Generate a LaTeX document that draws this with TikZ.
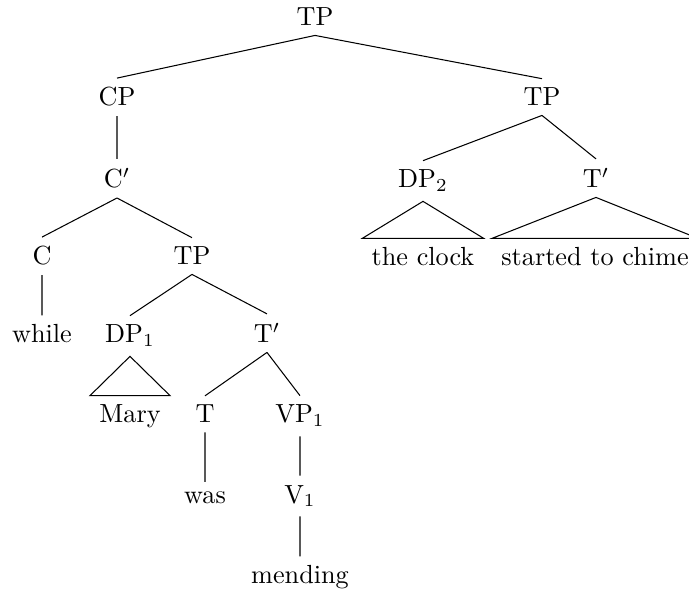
\documentclass[tikz,border=0pt]{standalone}
\usepackage{tikz}
\usetikzlibrary{arrows}

\begin{document}
\begin{tikzpicture}[x=0.3817pt,y=-0.3817pt]
  \tikzstyle{every node}=[anchor=base,inner sep=3.4pt]
  \useasboundingbox (0,0) rectangle (689,592);

  % top level
  \node (tp)     at (315,26)  {TP};
  \node (cp)     at (117,106) {CP};
  \node (tpr)    at (542,106) {TP};

  % left clause
  \node (cbar)   at (117,188) {C$'$};
  \node (c)      at (42,265)  {C};
  \node (tpl)    at (192,265) {TP};
  \node (while)  at (42,343)  {while};
  \node (dp1)    at (130,343) {DP$_1$};
  \node (tbar1)  at (267,343) {T$'$};
  \node (mary)   at (130,423) {Mary};
  \node (t)      at (205,423) {T};
  \node (vp1)    at (300,423) {VP$_1$};
  \node (was)    at (205,503) {was};
  \node (v1)     at (300,503) {V$_1$};
  \node (mend)   at (300,584) {mending};

  % right clause
  \node (dp2)    at (423,188) {DP$_2$};
  \node (tbar2)  at (596,188) {T$'$};
  \node (clock)  at (423,266) {the clock};
  \node (chime)  at (595,266) {started to chime};

  \draw (tp.south) -- (cp.north)
        (tp.south) -- (tpr.north)
        (cp.south) -- (cbar.north)
        (cbar.south) -- (c.north)
        (cbar.south) -- (tpl.north)
        (c.south) -- (while.north)
        (tpl.south) -- (dp1.north)
        (tpl.south) -- (tbar1.north)
        (tbar1.south) -- (t.north)
        (tbar1.south) -- (vp1.north)
        (t.south) -- (was.north)
        (vp1.south) -- (v1.north)
        (v1.south) -- (mend.north)
        (tpr.south) -- (dp2.north)
        (tpr.south) -- (tbar2.north);

  % roofs
  \draw (dp1.south) -- (mary.north west) -- (mary.north east) -- cycle;
  \draw (dp2.south) -- (clock.north west) -- (clock.north east) -- cycle;
  \draw (tbar2.south) -- (chime.north west) -- (chime.north east) -- cycle;
\end{tikzpicture}
\end{document}
